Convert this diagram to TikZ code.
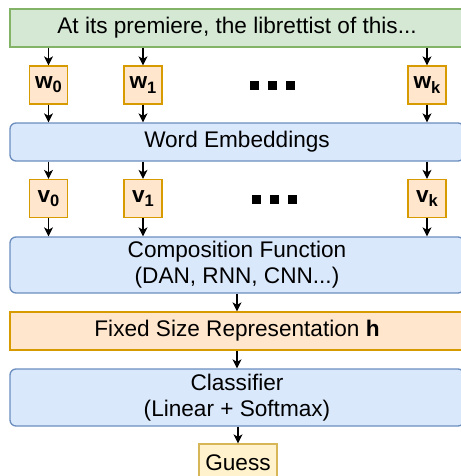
\documentclass[tikz,border=0pt]{standalone}
\usepackage{fontspec}
\setmainfont{Liberation Sans}
\usetikzlibrary{arrows.meta}
\definecolor{gfill}{HTML}{D5E8D4}
\definecolor{gdraw}{HTML}{82B366}
\definecolor{ofill}{HTML}{FFE6CC}
\definecolor{odraw}{HTML}{D79B00}
\definecolor{bfill}{HTML}{DAE8FC}
\definecolor{bdraw}{HTML}{6C8EBF}
\definecolor{yfill}{HTML}{FFF2CC}
\definecolor{ydraw}{HTML}{D6B656}
\newcommand{\wsub}[2]{\textbf{#1\raisebox{-0.35ex}{\fontsize{16.5}{16.5}\selectfont #2}}}
\begin{document}
\begin{tikzpicture}[x=1pt,y=-1pt,
  every node/.style={font=\fontsize{22.6}{26}\selectfont, inner sep=0pt, align=center},
  wide/.style={minimum width=454pt, line width=1.3pt},
  greenbox/.style={wide, draw=gdraw, fill=gfill, minimum height=38pt},
  bluebox/.style={wide, draw=bdraw, fill=bfill, rounded corners=6pt},
  orangebox/.style={draw=odraw, fill=ofill, line width=1.3pt},
  tokbox/.style={orangebox, minimum width=38pt, minimum height=38pt},
  guessbox/.style={draw=ydraw, fill=yfill, line width=1.3pt, minimum width=78pt, minimum height=38pt},
  dotsq/.style={fill=black, minimum width=9pt, minimum height=9pt},
  arr/.style={-{Stealth[length=9pt,width=9pt,inset=2.5pt]}, line width=1.1pt, shorten >=0pt}
]
\useasboundingbox (0,0) rectangle (460,476);
\fill[white] (0,0) rectangle (460,476);

\node[greenbox] (top) at (237,28) {At its premiere, the librettist of this...};

\node[tokbox] (w0) at (48.5,85) {\wsub{w}{0}};
\node[tokbox] (w1) at (143,85) {\wsub{w}{1}};
\node[tokbox] (wk) at (427,85) {\wsub{w}{k}};
\node[dotsq] (wd1) at (254,85.5) {};
\node[dotsq] (wd2) at (272,85.5) {};
\node[dotsq] (wd3) at (290.5,85.5) {};

\node[bluebox, minimum height=38pt] (we) at (237,142) {Word Embeddings};

\node[tokbox] (v0) at (48.5,198.5) {\wsub{v}{0}};
\node[tokbox] (v1) at (143,198.5) {\wsub{v}{1}};
\node[tokbox] (vk) at (427,198.5) {\wsub{v}{k}};
\node[dotsq] (vd1) at (256.5,199) {};
\node[dotsq] (vd2) at (274.5,199) {};
\node[dotsq] (vd3) at (292.5,199) {};

\node[bluebox, minimum height=56pt] (comp) at (237,265) {Composition Function\\(DAN, RNN, CNN...)};
\node[orangebox, wide, minimum height=38pt] (fixed) at (237,331) {Fixed Size Representation \textbf{h}};
\node[bluebox, minimum height=57pt] (cls) at (237,397.5) {Classifier\\(Linear + Softmax)};
\node[guessbox] (guess) at (238,463) {Guess};

\foreach \n in {0,1,k} {
  \draw[arr] (top.south -| w\n) -- (w\n);
  \draw[arr] (w\n) -- (we.north -| w\n);
  \draw[arr] (we.south -| v\n) -- (v\n);
  \draw[arr] (v\n) -- (comp.north -| v\n);
}
\draw[arr] (comp) -- (fixed);
\draw[arr] (fixed) -- (cls);
\draw[arr] (cls.south -| guess) -- (guess);
\end{tikzpicture}
\end{document}
